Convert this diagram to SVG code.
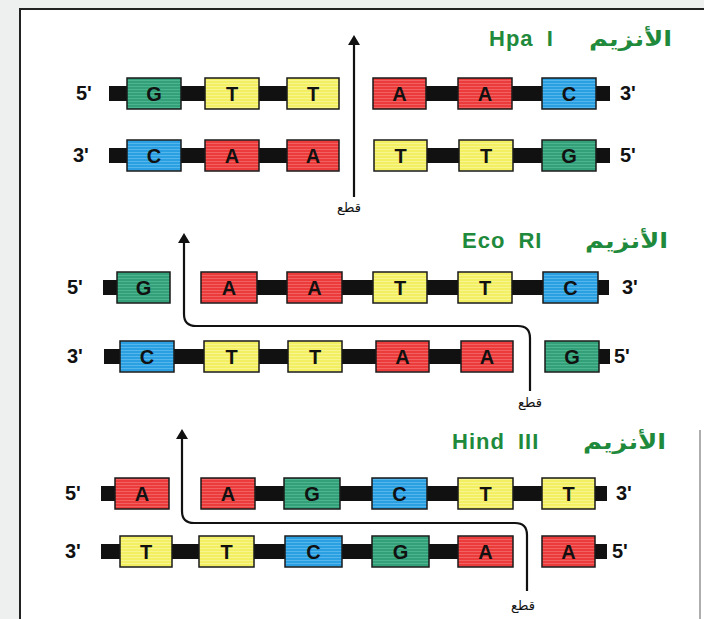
<svg xmlns="http://www.w3.org/2000/svg" width="704" height="619" viewBox="0 0 704 619">
  <defs>
    <!-- striped fills for the four bases -->
    <pattern id="fG" width="6" height="3" patternUnits="userSpaceOnUse">
      <rect width="6" height="3" fill="#33a07a"/><rect y="2" width="6" height="1" fill="#4cb48e"/>
    </pattern>
    <pattern id="fT" width="6" height="3" patternUnits="userSpaceOnUse">
      <rect width="6" height="3" fill="#f3ef62"/><rect y="2" width="6" height="1" fill="#f8f58e"/>
    </pattern>
    <pattern id="fA" width="6" height="3" patternUnits="userSpaceOnUse">
      <rect width="6" height="3" fill="#ec3b3b"/><rect y="2" width="6" height="1" fill="#f26161"/>
    </pattern>
    <pattern id="fC" width="6" height="3" patternUnits="userSpaceOnUse">
      <rect width="6" height="3" fill="#2a9fe2"/><rect y="2" width="6" height="1" fill="#55b6ec"/>
    </pattern>
    <!-- arrowhead, tip along +x so orient="auto" follows the path -->
    <marker id="head" viewBox="0 0 10 12" refX="1" refY="6" markerWidth="10" markerHeight="12" markerUnits="userSpaceOnUse" orient="auto">
      <path d="M0 0 L10 6 L0 12 Z" fill="#111"/>
    </marker>
  </defs>
  <style>
    .bar { fill: #111; }
    .box { stroke: #1a1a1a; stroke-width: 1.5; }
    .G .box { fill: url(#fG); }
    .T .box { fill: url(#fT); }
    .A .box { fill: url(#fA); }
    .C .box { fill: url(#fC); }
    .base text { font-family: "Liberation Sans", Arial, sans-serif; font-weight: bold; font-size: 20px; fill: #111; text-anchor: middle; }
    .end { font-family: "Liberation Sans", Arial, sans-serif; font-weight: bold; font-size: 20px; fill: #111; }
    .title { font-family: "Liberation Sans", Arial, sans-serif; font-weight: bold; font-size: 22px; fill: #1f8a3c; letter-spacing: 1px; word-spacing: 6px; }
    .ar { font-family: "DejaVu Sans", "Noto Sans", sans-serif; font-weight: bold; font-size: 21px; fill: #1f8a3c; text-anchor: end; }
    .cut { font-family: "DejaVu Sans", "Noto Sans", sans-serif; font-size: 13px; fill: #111; text-anchor: middle; }
    .arrow { fill: none; stroke: #111; stroke-width: 2.2; marker-end: url(#head); }
    .frame { stroke: #222; stroke-width: 2; fill: none; }
  </style>

  <!-- page and frame -->
  <rect width="704" height="619" fill="#eef0f0"/>
  <rect x="20" y="9" width="684" height="610" fill="#ffffff"/>
  <path class="frame" d="M20 619 V9 H704"/>
  <path d="M700 430 V619" stroke="#777" stroke-width="1.2"/>

  <!-- ===== Hpa I ===== -->
  <text class="title" x="489" y="46">Hpa I</text>
  <text class="ar" transform="translate(672 46) scale(1.22 1)">الأنزيم</text>

  <g id="hpa-strand-top">
    <rect class="bar" x="109" y="86" width="230" height="15"/>
    <rect class="bar" x="373" y="86" width="237" height="15"/>
    <text class="end" x="76" y="100">5'</text>
    <text class="end" x="620" y="100">3'</text>
  </g>
  <g id="hpa-t1" class="base G"><rect class="box" x="127" y="78" width="54" height="31"/><text x="154" y="101">G</text></g>
  <g id="hpa-t2" class="base T"><rect class="box" x="205" y="78" width="54" height="31"/><text x="232" y="101">T</text></g>
  <g id="hpa-t3" class="base T"><rect class="box" x="287" y="78" width="52" height="31"/><text x="313" y="101">T</text></g>
  <g id="hpa-t4" class="base A"><rect class="box" x="373" y="78" width="53" height="31"/><text x="399.500" y="101">A</text></g>
  <g id="hpa-t5" class="base A"><rect class="box" x="458" y="78" width="54" height="31"/><text x="485" y="101">A</text></g>
  <g id="hpa-t6" class="base C"><rect class="box" x="542" y="78" width="54" height="31"/><text x="569" y="101">C</text></g>

  <g id="hpa-strand-bottom">
    <rect class="bar" x="109" y="148" width="230" height="15"/>
    <rect class="bar" x="374" y="148" width="236" height="15"/>
    <text class="end" x="73" y="162">3'</text>
    <text class="end" x="620" y="162">5'</text>
  </g>
  <g id="hpa-b1" class="base C"><rect class="box" x="127" y="140" width="54" height="31"/><text x="154" y="163">C</text></g>
  <g id="hpa-b2" class="base A"><rect class="box" x="205" y="140" width="54" height="31"/><text x="232" y="163">A</text></g>
  <g id="hpa-b3" class="base A"><rect class="box" x="287" y="140" width="52" height="31"/><text x="313" y="163">A</text></g>
  <g id="hpa-b4" class="base T"><rect class="box" x="374" y="140" width="53" height="31"/><text x="400.500" y="163">T</text></g>
  <g id="hpa-b5" class="base T"><rect class="box" x="459" y="140" width="54" height="31"/><text x="486" y="163">T</text></g>
  <g id="hpa-b6" class="base G"><rect class="box" x="542" y="140" width="54" height="31"/><text x="569" y="163">G</text></g>

  <!-- ===== Eco RI ===== -->
  <text class="title" x="462" y="248">Eco RI</text>
  <text class="ar" transform="translate(668 248) scale(1.22 1)">الأنزيم</text>

  <g id="eco-strand-top">
    <rect class="bar" x="103" y="280" width="67" height="15"/>
    <rect class="bar" x="201" y="280" width="408" height="15"/>
    <text class="end" x="67" y="294">5'</text>
    <text class="end" x="622" y="294">3'</text>
  </g>
  <g id="eco-t1" class="base G"><rect class="box" x="117" y="272" width="53" height="31"/><text x="143.500" y="295">G</text></g>
  <g id="eco-t2" class="base A"><rect class="box" x="201" y="272" width="56" height="31"/><text x="229" y="295">A</text></g>
  <g id="eco-t3" class="base A"><rect class="box" x="287" y="272" width="55" height="31"/><text x="314.500" y="295">A</text></g>
  <g id="eco-t4" class="base T"><rect class="box" x="373" y="272" width="54" height="31"/><text x="400" y="295">T</text></g>
  <g id="eco-t5" class="base T"><rect class="box" x="458" y="272" width="54" height="31"/><text x="485" y="295">T</text></g>
  <g id="eco-t6" class="base C"><rect class="box" x="543" y="272" width="55" height="31"/><text x="570.500" y="295">C</text></g>

  <g id="eco-strand-bottom">
    <rect class="bar" x="104" y="349" width="409" height="15"/>
    <rect class="bar" x="545" y="349" width="65" height="15"/>
    <text class="end" x="67" y="363">3'</text>
    <text class="end" x="614" y="363">5'</text>
  </g>
  <g id="eco-b1" class="base C"><rect class="box" x="120" y="341" width="54" height="31"/><text x="147" y="364">C</text></g>
  <g id="eco-b2" class="base T"><rect class="box" x="204" y="341" width="55" height="31"/><text x="231.500" y="364">T</text></g>
  <g id="eco-b3" class="base T"><rect class="box" x="288" y="341" width="54" height="31"/><text x="315" y="364">T</text></g>
  <g id="eco-b4" class="base A"><rect class="box" x="376" y="341" width="53" height="31"/><text x="402.500" y="364">A</text></g>
  <g id="eco-b5" class="base A"><rect class="box" x="461" y="341" width="52" height="31"/><text x="487" y="364">A</text></g>
  <g id="eco-b6" class="base G"><rect class="box" x="545" y="341" width="54" height="31"/><text x="572" y="364">G</text></g>

  <!-- ===== Hind III ===== -->
  <text class="title" x="452" y="449">Hind III</text>
  <text class="ar" transform="translate(666 449) scale(1.22 1)">الأنزيم</text>

  <g id="hind-strand-top">
    <rect class="bar" x="101" y="486" width="68" height="15"/>
    <rect class="bar" x="201" y="486" width="406" height="15"/>
    <text class="end" x="65" y="500">5'</text>
    <text class="end" x="616" y="500">3'</text>
  </g>
  <g id="hind-t1" class="base A"><rect class="box" x="115" y="478" width="54" height="31"/><text x="142" y="501">A</text></g>
  <g id="hind-t2" class="base A"><rect class="box" x="201" y="478" width="54" height="31"/><text x="228" y="501">A</text></g>
  <g id="hind-t3" class="base G"><rect class="box" x="284" y="478" width="56" height="31"/><text x="312" y="501">G</text></g>
  <g id="hind-t4" class="base C"><rect class="box" x="372" y="478" width="55" height="31"/><text x="399.500" y="501">C</text></g>
  <g id="hind-t5" class="base T"><rect class="box" x="458" y="478" width="55" height="31"/><text x="485.500" y="501">T</text></g>
  <g id="hind-t6" class="base T"><rect class="box" x="542" y="478" width="53" height="31"/><text x="568.500" y="501">T</text></g>

  <g id="hind-strand-bottom">
    <rect class="bar" x="101" y="544" width="412" height="15"/>
    <rect class="bar" x="542" y="544" width="65" height="15"/>
    <text class="end" x="65" y="558">3'</text>
    <text class="end" x="612" y="558">5'</text>
  </g>
  <g id="hind-b1" class="base T"><rect class="box" x="120" y="536" width="52" height="31"/><text x="146" y="559">T</text></g>
  <g id="hind-b2" class="base T"><rect class="box" x="199" y="536" width="55" height="31"/><text x="226.500" y="559">T</text></g>
  <g id="hind-b3" class="base C"><rect class="box" x="285" y="536" width="57" height="31"/><text x="313.500" y="559">C</text></g>
  <g id="hind-b4" class="base G"><rect class="box" x="372" y="536" width="57" height="31"/><text x="400.500" y="559">G</text></g>
  <g id="hind-b5" class="base A"><rect class="box" x="458" y="536" width="55" height="31"/><text x="485.500" y="559">A</text></g>
  <g id="hind-b6" class="base A"><rect class="box" x="542" y="536" width="53" height="31"/><text x="568.500" y="559">A</text></g>

  <!-- cut paths with their labels -->
  <g id="connectors">
    <path class="arrow" d="M354 197 V44"/>
    <path class="arrow" d="M530 391 V338 Q530 326 518 326 H196 Q184 326 184 314 V242"/>
    <path class="arrow" d="M527 591 V535 Q527 523 515 523 H194 Q182 523 182 511 V438"/>
    <text class="cut" x="349" y="212">قطع</text>
    <text class="cut" x="530" y="407">قطع</text>
    <text class="cut" x="523" y="610">قطع</text>
  </g>
</svg>
